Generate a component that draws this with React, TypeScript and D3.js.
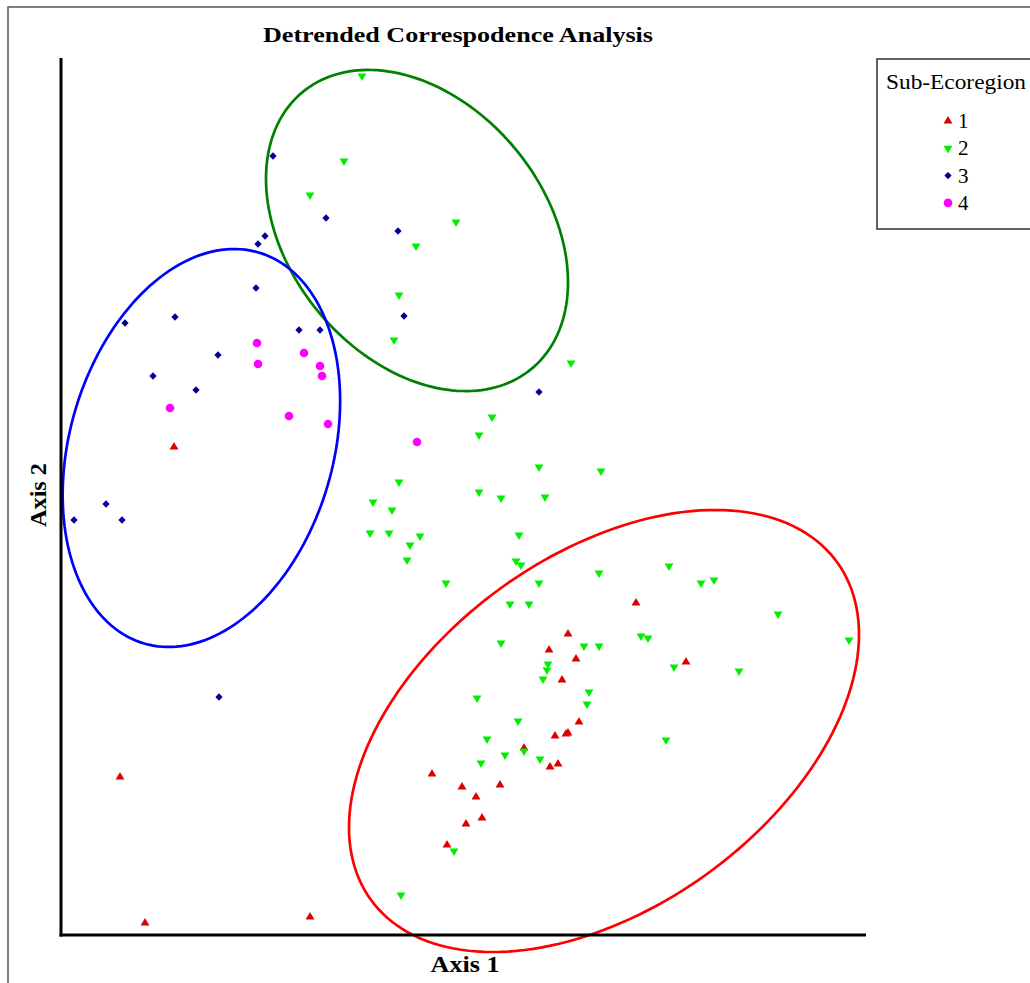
import React from "react";
import * as d3 from "d3";

// DCA site scores (axis units)
const region1: [number, number][] = [
  [1.13, 4.88], [0.59, 1.58], [0.84, 0.12], [2.49, 0.18], [5.75, 3.32], [6.25, 2.73],
  [5.07, 3.01], [4.88, 2.85], [5.15, 2.76], [5.01, 2.55], [5.18, 2.13], [5.07, 2.02],
  [5.05, 2.01], [4.94, 1.99], [4.63, 1.87], [4.89, 1.68], [4.97, 1.71], [3.71, 1.61],
  [4.01, 1.48], [4.15, 1.38], [4.39, 1.5], [4.21, 1.17], [4.05, 1.11], [3.86, 0.9],
];

const region2: [number, number][] = [
  [3.01, 8.59], [2.83, 7.74], [2.49, 7.4], [3.95, 7.13], [3.55, 6.89], [3.38, 6.4],
  [3.33, 5.95], [5.1, 5.72], [4.31, 5.18], [4.18, 5.0], [4.78, 4.68], [5.4, 4.64],
  [3.38, 4.53], [4.18, 4.43], [4.4, 4.37], [4.84, 4.38], [3.12, 4.33], [3.31, 4.25],
  [3.09, 4.02], [3.28, 4.02], [3.59, 3.99], [3.49, 3.9], [3.46, 3.75], [4.58, 4.0],
  [4.55, 3.74], [4.6, 3.7], [3.85, 3.52], [4.78, 3.52], [5.38, 3.62], [4.49, 3.31],
  [4.68, 3.31], [6.08, 3.69], [6.4, 3.52], [6.53, 3.55], [7.17, 3.21], [7.88, 2.95],
  [5.8, 2.99], [5.87, 2.97], [5.23, 2.89], [5.38, 2.89], [6.13, 2.68], [6.78, 2.64],
  [5.28, 2.43], [5.26, 2.31], [6.05, 1.95], [4.4, 2.92], [4.87, 2.71], [4.86, 2.65],
  [4.82, 2.56], [4.16, 2.37], [4.57, 2.14], [4.26, 1.96], [4.44, 1.8], [4.63, 1.84],
  [4.79, 1.76], [4.2, 1.72], [3.93, 0.84], [3.4, 0.4],
];

const region3: [number, number][] = [
  [2.12, 7.79], [2.65, 7.17], [3.37, 7.04], [2.04, 6.99], [1.97, 6.91], [1.95, 6.47],
  [3.43, 6.19], [2.38, 6.05], [2.59, 6.05], [4.78, 5.43], [0.64, 6.12], [1.14, 6.18],
  [1.57, 5.8], [0.92, 5.59], [1.35, 5.45], [0.45, 4.31], [0.13, 4.15], [0.61, 4.15],
  [1.58, 2.38],
];

const region4: [number, number][] = [
  [1.96, 5.92], [1.97, 5.71], [2.43, 5.82], [2.59, 5.69], [2.61, 5.59], [1.09, 5.27],
  [2.28, 5.19], [2.67, 5.11], [3.56, 4.93],
];

const legendLabels = ["1", "2", "3", "4"];

// group ellipses: center, semi-axes, rotation (degrees, counter-clockwise)
const ellipses = [
  { cx: 3.56, cy: 7.045, a: 1.796, b: 1.278, angle: -50.4, color: "#008000" },
  { cx: 1.404, cy: 4.87, a: 2.037, b: 1.317, angle: 73.7, color: "#0000ff" },
  { cx: 5.43, cy: 2.04, a: 2.878, b: 1.762, angle: 35.9, color: "#ff0000" },
];

const W = 1030;
const H = 983;
const plot = { left: 61, right: 866, top: 58, bottom: 935 };

const x = d3.scaleLinear().domain([0, 8.05]).range([plot.left, plot.right]);
const y = d3.scaleLinear().domain([0, 8.77]).range([plot.bottom, plot.top]);

const triUp = d3.symbol().type(d3.symbolTriangle).size(34)()!;
const diamond = d3.symbol().type(d3.symbolDiamond2).size(34)()!;

const series = [
  { data: region1, color: "#dd0000", kind: "up" },
  { data: region2, color: "#00ee00", kind: "down" },
  { data: region3, color: "#000099", kind: "diamond" },
  { data: region4, color: "#ff00ff", kind: "circle" },
];

const Marker = ({ kind, color, cx, cy }: { kind: string; color: string; cx: number; cy: number }) => {
  if (kind === "circle") return <circle cx={cx} cy={cy} r={4.3} fill={color} />;
  if (kind === "diamond") return <path d={diamond} transform={`translate(${cx},${cy})`} fill={color} />;
  const rot = kind === "down" ? " rotate(180)" : "";
  return <path d={triUp} transform={`translate(${cx},${cy})${rot}`} fill={color} />;
};

const ellipsePath = (e: typeof ellipses[number]) => {
  const phi = (e.angle * Math.PI) / 180;
  const ts = d3.range(0, 361, 2).map((d) => (d * Math.PI) / 180);
  const line = d3
    .line<number>()
    .x((t) => x(e.cx + e.a * Math.cos(t) * Math.cos(phi) - e.b * Math.sin(t) * Math.sin(phi)))
    .y((t) => y(e.cy + e.a * Math.cos(t) * Math.sin(phi) + e.b * Math.sin(t) * Math.cos(phi)))
    .curve(d3.curveLinearClosed);
  return line(ts) || "";
};

export default function App() {
  const serif = "'Liberation Serif', 'Times New Roman', serif";
  return (
    <svg
      width={W}
      height={H}
      viewBox={`0 0 ${W} ${H}`}
      style={{ position: "absolute", left: 0, top: 0, display: "block", background: "#fff" }}
    >
      {/* outer frame, cut off at right and bottom */}
      <rect x={8} y={7} width={1100} height={1100} fill="none" stroke="#555" strokeWidth={1.5} />

      <text
        x={458}
        y={42}
        textAnchor="middle"
        fontFamily={serif}
        fontWeight="bold"
        fontSize={22}
        textLength={390}
        lengthAdjust="spacingAndGlyphs"
      >
        Detrended Correspodence Analysis
      </text>

      {/* ellipses */}
      {ellipses.map((e, i) => (
        <path key={i} d={ellipsePath(e)} fill="none" stroke={e.color} strokeWidth={2.7} />
      ))}

      {/* points */}
      {series.map((s, si) =>
        s.data.map((d, i) => <Marker key={`${si}-${i}`} kind={s.kind} color={s.color} cx={x(d[0])} cy={y(d[1])} />)
      )}

      {/* axes */}
      <line x1={x(0)} x2={x(0)} y1={y(y.domain()[1])} y2={y(0) + 1.5} stroke="#000" strokeWidth={3} />
      <line x1={x(0) - 1.5} x2={x(x.domain()[1])} y1={y(0)} y2={y(0)} stroke="#000" strokeWidth={3} />

      <text
        x={465}
        y={972}
        textAnchor="middle"
        fontFamily={serif}
        fontWeight="bold"
        fontSize={23}
        textLength={69}
        lengthAdjust="spacingAndGlyphs"
      >
        Axis 1
      </text>
      <text
        transform="translate(46,495) rotate(-90)"
        textAnchor="middle"
        fontFamily={serif}
        fontWeight="bold"
        fontSize={23}
        textLength={64}
        lengthAdjust="spacingAndGlyphs"
      >
        Axis 2
      </text>

      {/* legend */}
      <g>
        <rect x={877} y={59} width={200} height={170} fill="#fff" stroke="#333" strokeWidth={1.5} />
        <text x={886} y={89} fontFamily={serif} fontSize={21} textLength={140} lengthAdjust="spacingAndGlyphs">
          Sub-Ecoregion
        </text>
        {series.map((s, i) => (
          <g key={i}>
            <Marker kind={s.kind} color={s.color} cx={948} cy={121 + i * 27.3} />
            <text x={958} y={128 + i * 27.3} fontFamily={serif} fontSize={21}>
              {legendLabels[i]}
            </text>
          </g>
        ))}
      </g>
    </svg>
  );
}
